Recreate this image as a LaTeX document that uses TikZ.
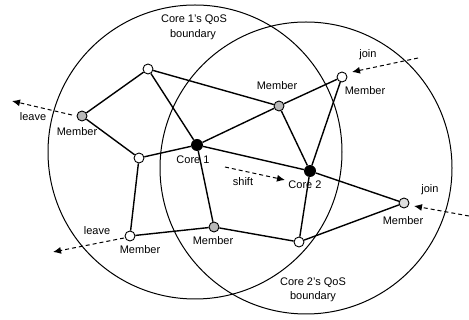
\documentclass[tikz,border=0pt]{standalone}
\usepackage{fontspec}
\setmainfont{Liberation Sans}
\usetikzlibrary{arrows.meta}
\begin{document}
\begin{tikzpicture}[x=1pt,y=-1pt,
  nd/.style={circle,draw,line width=0.9pt,minimum size=10pt,inner sep=0pt,fill=white},
  mem/.style={nd,fill=gray!55},
  lmem/.style={nd,fill=gray!25},
  core/.style={circle,fill=black,minimum size=12pt,inner sep=0pt},
  edge/.style={line width=1.4pt},
  bnd/.style={line width=1pt},
  mv/.style={dashed,line width=1pt,dash pattern=on 4pt off 3pt,-{Latex[length=8pt,width=7pt]}},
  lbl/.style={font=\fontsize{11}{12}\selectfont,inner sep=0pt}]
\useasboundingbox (0,0) rectangle (469,320);
% QoS boundaries
\coordinate (o1) at (195,152);
\coordinate (o2) at (306,168);
\draw[bnd] (o1) circle[radius=147pt];
\draw[bnd] (o2) circle[radius=146pt];
% nodes
\node[nd]   (A)  at (148,69) {};
\node[mem]  (ML) at (82,116) {};
\node[nd]   (B)  at (139,158) {};
\node[core] (C1) at (197,145) {};
\node[core] (C2) at (310,171) {};
\node[mem]  (MM) at (279,106) {};
\node[nd]   (JT) at (342,77) {};
\node[lmem] (JR) at (404,203) {};
\node[nd]   (BN) at (299,242) {};
\node[mem]  (MB) at (214,227) {};
\node[nd]   (BL) at (130,236) {};
% edges
\draw[edge] (A) -- (ML);
\draw[edge] (A) -- (C1);
\draw[edge] (A) -- (MM);
\draw[edge] (ML) -- (B);
\draw[edge] (B) -- (C1);
\draw[edge] (B) -- (BL);
\draw[edge] (C1) -- (MM);
\draw[edge] (C1) -- (C2);
\draw[edge] (C1) -- (MB);
\draw[edge] (MM) -- (JT);
\draw[edge] (MM) -- (C2);
\draw[edge] (JT) -- (C2);
\draw[edge] (C2) -- (BN);
\draw[edge] (C2) -- (JR);
\draw[edge] (JR) -- (BN);
\draw[edge] (BN) -- (MB);
\draw[edge] (MB) -- (BL);
% movement arrows
\coordinate (l1s) at (72,115);  \coordinate (l1e) at (12,101);
\coordinate (l2s) at (124,238); \coordinate (l2e) at (53,252);
\coordinate (j1s) at (418,58);  \coordinate (j1e) at (352,72);
\coordinate (j2s) at (469,216); \coordinate (j2e) at (414,206);
\coordinate (ss)  at (225,167); \coordinate (se)  at (285,180);
\draw[mv] (l1s) -- (l1e);
\draw[mv] (l2s) -- (l2e);
\draw[mv] (j1s) -- (j1e);
\draw[mv] (j2s) -- (j2e);
\draw[mv] (ss) -- (se);
% labels
\node[lbl] (t1a) at (194,20) {Core 1's QoS};
\node[lbl] (t1b) at (193,35) {boundary};
\node[lbl] (t2a) at (313,283) {Core 2's QoS};
\node[lbl] (t2b) at (313,297) {boundary};
\node[lbl] (lML) at (77,132) {Member};
\node[lbl] (lMM) at (277,86) {Member};
\node[lbl] (lJT) at (365,91) {Member};
\node[lbl] (lJR) at (403,221) {Member};
\node[lbl] (lMB) at (213,241) {Member};
\node[lbl] (lBL) at (140,250) {Member};
\node[lbl] (lC1) at (193,160) {Core 1};
\node[lbl] (lC2) at (305,185) {Core 2};
\node[lbl] (lv1) at (33,117) {leave};
\node[lbl] (lv2) at (97,231) {leave};
\node[lbl] (jn1) at (368,55) {join};
\node[lbl] (jn2) at (430,190) {join};
\node[lbl] (sh)  at (243,182) {shift};
\end{tikzpicture}
\end{document}
